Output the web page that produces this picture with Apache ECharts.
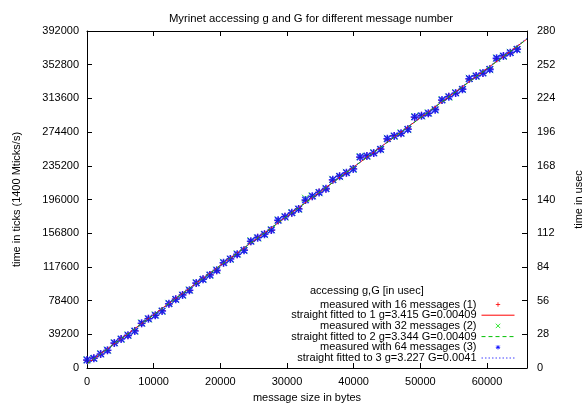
<!DOCTYPE html>
<html>
<head>
    <meta charset="utf-8">
    <title>Myrinet g and G</title>
    <script src="https://cdn.jsdelivr.net/npm/echarts@6/dist/echarts.min.js"></script>
	<style>
		html, body {margin: 0; padding: 0; background: #fff;}
		#chart {width: 587px; height: 405px;}
	</style>
</head>
<body>
	<div id="chart"></div>
    <script type="text/javascript">
		// message sizes in bytes
		var sizes = [0, 1024, 2048, 3072, 4096, 5120, 6144, 7168, 8192, 9216, 10240, 11264, 12288, 13312, 14336, 15360,
			16384, 17408, 18432, 19456, 20480, 21504, 22528, 23552, 24576, 25600, 26624, 27648, 28672, 29696, 30720, 31744,
			32768, 33792, 34816, 35840, 36864, 37888, 38912, 39936, 40960, 41984, 43008, 44032, 45056, 46080, 47104, 48128,
			49152, 50176, 51200, 52224, 53248, 54272, 55296, 56320, 57344, 58368, 59392, 60416, 61440, 62464, 63488, 64512];

		// measured time in ticks
		var ticks16 = [9000, 11700, 16000, 20200, 28700, 34100, 37600, 43500, 51500, 57800, 61000, 66800, 74300, 80400, 85300, 89900,
			98400, 103700, 108600, 113100, 122000, 127300, 131800, 137400, 146900, 152100, 156000, 160000, 171200, 176500, 180000, 185500,
			195000, 199300, 204700, 208100, 218500, 223500, 226700, 232100, 244900, 247100, 249600, 254900, 266200, 270400, 272500, 278200,
			291500, 294000, 295800, 301000, 311200, 316100, 319400, 324700, 336000, 340200, 342600, 347900, 359700, 363400, 366300, 371200];
		var ticks32 = [9600, 11000, 16600, 20900, 29400, 33400, 38400, 42700, 52400, 56900, 61700, 65900, 75200, 79500, 84500, 90800,
			99300, 102800, 107800, 114000, 123000, 126400, 132700, 136500, 148000, 151200, 155100, 160900, 172300, 175600, 180900, 184600,
			197500, 200300, 203800, 209000, 219500, 222600, 227600, 231000, 245900, 246200, 250500, 254000, 267200, 269500, 273400, 277300,
			292500, 293100, 296700, 300100, 312200, 315200, 320300, 323800, 337000, 339300, 343500, 347000, 360700, 362500, 367200, 370300];
		var ticks64 = [9300, 11300, 16300, 20600, 29100, 33700, 38000, 43000, 52000, 57300, 61300, 66300, 74800, 79900, 84900, 90400,
			98900, 103200, 108200, 113600, 122500, 126800, 132300, 136900, 147400, 151600, 155500, 160500, 171800, 176000, 180500, 185000,
			195500, 199800, 204200, 208600, 219000, 223000, 227200, 231500, 245400, 246600, 250100, 254400, 266700, 269900, 273000, 277700,
			292000, 293500, 296300, 300500, 311700, 315600, 319900, 324200, 336500, 339700, 343100, 347400, 360200, 362900, 366800, 370700];

		// fitted straight lines, in usec, at both ends of the x range
		var fitX = [0, 66000];
		var fit1 = [3.415, 273.355];
		var fit2 = [3.344, 273.284];
		var fit3 = [3.227, 273.827];

		var names = [
			'measured with 16 messages (1)',
			'straight fitted to 1 g=3.415 G=0.00409',
			'measured with 32 messages (2)',
			'straight fitted to 2 g=3.344 G=0.00409',
			'measured with 64 messages (3)',
			'straight fitted to 3 g=3.227 G=0.0041'
		];

		function pairs(xs, ys) {
			var out = [];
			for (var i = 0; i < ys.length; i++) out.push([xs[i], ys[i]]);
			return out;
		}

		var FONT = 'Liberation Sans, Arial, sans-serif';
		var plusPath = 'path://M0,5L10,5M5,0L5,10';
		var crossPath = 'path://M0,0L10,10M10,0L0,10';
		var starPath = 'path://M0,5L10,5M5,0L5,10M1,1L9,9M9,1L1,9';

		// fresh objects for every axis; negative length turns ticks inwards
		function line() { return {show: true, onZero: false, lineStyle: {color: '#000', width: 1}}; }
		function tick() { return {show: true, inside: false, length: -5, lineStyle: {color: '#000', width: 1}}; }
		function label(margin, extra) {
			var l = {show: true, margin: margin, color: '#000', fontSize: 11, fontFamily: FONT,
				formatter: function (v) { return String(v); }};
			return Object.assign(l, extra || {});
		}
		function nameStyle() { return {fontSize: 11, color: '#000', fontFamily: FONT}; }
		var hideSym = {opacity: 0};

		var chart = echarts.init(document.getElementById('chart'));
		var option = {
			animation: false,
			backgroundColor: '#fff',
			title: {
				text: 'Myrinet accessing g and G for different message number',
				left: 306, top: 8, textAlign: 'center',
				textStyle: {fontSize: 11.3, fontWeight: 'normal', color: '#000', fontFamily: FONT}
			},
			graphic: [{
				type: 'text', left: 310, top: 285,
				style: {text: 'accessing g,G [in usec]', fontSize: 11, fill: '#000', fontFamily: FONT}
			}],
			grid: {left: 87, right: 60, top: 31, bottom: 37, outerBoundsMode: 'none'},
			legend: {
				orient: 'vertical', align: 'right',
				right: 72, top: 296.5, padding: 0,
				itemWidth: 33, itemHeight: 11, itemGap: -2.8,
				textStyle: {fontSize: 11, color: '#000', fontFamily: FONT},
				itemStyle: {borderWidth: 1},
				lineStyle: {width: 1},
				data: [
					{name: names[0], icon: 'path://M0,0M20,20M6,10L14,10M10,6L10,14'},
					{name: names[1], itemStyle: hideSym},
					{name: names[2], icon: 'path://M0,0M20,20M6,6L14,14M14,6L6,14'},
					{name: names[3], itemStyle: hideSym},
					{name: names[4], icon: 'path://M0,0M20,20M6,10L14,10M10,6L10,14M7,7L13,13M13,7L7,13'},
					{name: names[5], itemStyle: hideSym}
				]
			},
			xAxis: [{
				type: 'value', position: 'bottom', min: 0, max: 66000, interval: 10000,
				name: 'message size in bytes', nameLocation: 'middle', nameGap: 24,
				nameTextStyle: nameStyle(),
				axisLine: line(), axisTick: tick(),
				axisLabel: label(8, {showMaxLabel: false}),
				splitLine: {show: false}
			}, {
				type: 'value', position: 'top', min: 0, max: 66000, interval: 10000,
				axisLine: line(), axisTick: tick(),
				axisLabel: {show: false}, splitLine: {show: false}
			}],
			yAxis: [{
				type: 'value', position: 'left', min: 0, max: 392000, interval: 39200,
				name: 'time in ticks (1400 Mticks/s)', nameLocation: 'middle', nameRotate: 90, nameGap: 65,
				nameTextStyle: nameStyle(),
				axisLine: line(), axisTick: tick(),
				axisLabel: label(8),
				splitLine: {show: false}
			}, {
				type: 'value', position: 'right', min: 0, max: 280, interval: 28,
				name: 'time in usec', nameLocation: 'middle', nameRotate: 90, nameGap: 46,
				nameTextStyle: nameStyle(),
				axisLine: line(), axisTick: tick(),
				axisLabel: label(10),
				splitLine: {show: false}
			}],
			series: [{
				name: names[0], type: 'scatter', symbol: plusPath, symbolSize: 7,
				itemStyle: {color: 'none', borderColor: '#ff0000', borderWidth: 1},
				data: pairs(sizes, ticks16)
			}, {
				name: names[1], type: 'line', yAxisIndex: 1, symbol: 'none',
				lineStyle: {color: '#ff0000', width: 1, type: 'solid'},
				itemStyle: {color: '#ff0000'},
				data: pairs(fitX, fit1)
			}, {
				name: names[2], type: 'scatter', symbol: crossPath, symbolSize: 7,
				itemStyle: {color: 'none', borderColor: '#00e000', borderWidth: 1},
				data: pairs(sizes, ticks32)
			}, {
				name: names[3], type: 'line', yAxisIndex: 1, symbol: 'none',
				lineStyle: {color: '#00c000', width: 1, type: [4, 3]},
				itemStyle: {color: '#00c000'},
				data: pairs(fitX, fit2)
			}, {
				name: names[4], type: 'scatter', symbol: starPath, symbolSize: 8,
				itemStyle: {color: 'none', borderColor: '#0000ff', borderWidth: 1.6},
				data: pairs(sizes, ticks64)
			}, {
				name: names[5], type: 'line', yAxisIndex: 1, symbol: 'none',
				lineStyle: {color: '#4040ff', width: 1, type: [1.5, 2]},
				itemStyle: {color: '#4040ff'},
				data: pairs(fitX, fit3)
			}]
		};
		chart.setOption(option);
    </script>
</body>
</html>
